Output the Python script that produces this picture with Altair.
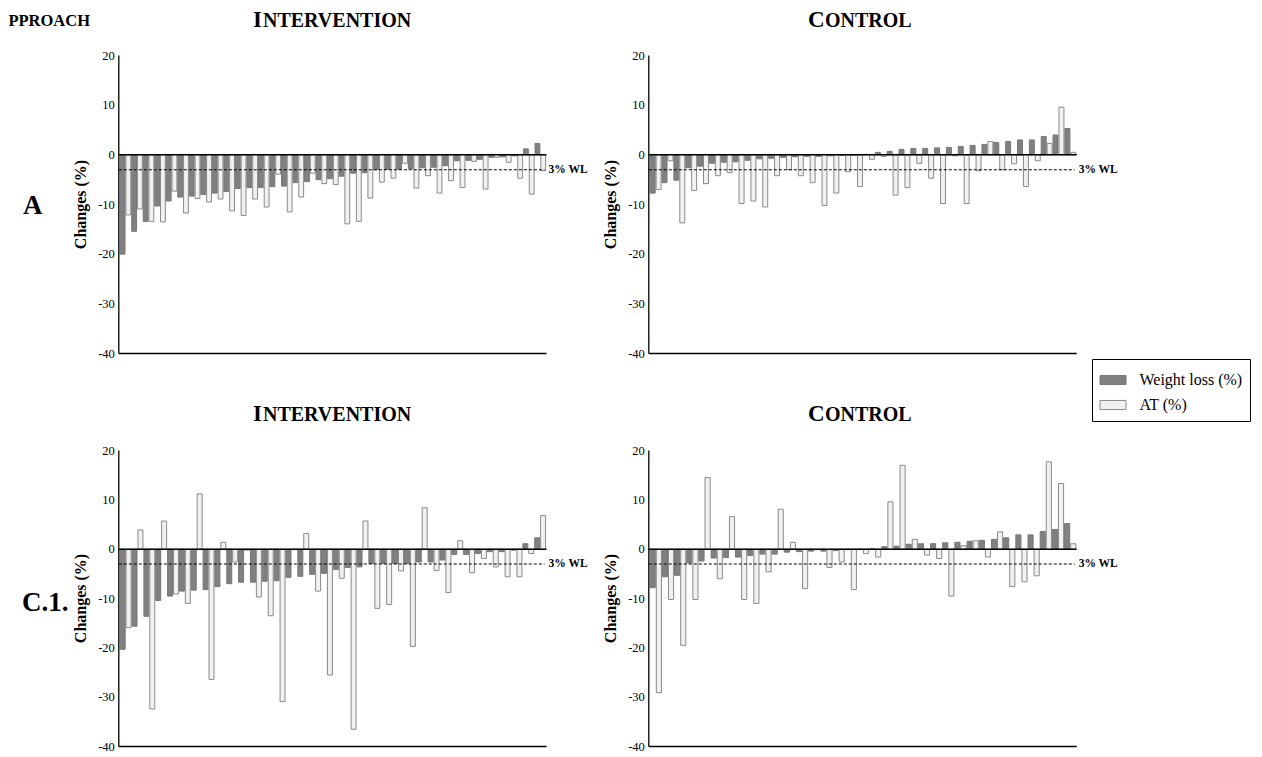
import altair as alt
import pandas as pd

# ---------------- data ----------------
series = ["Weight loss (%)", "AT (%)"]
ticks = [20, 10, 0, -10, -20, -30, -40]

# Approach A - intervention (37 participants)
a_int_wl = [-20.0, -15.4, -13.4, -10.3, -9.3, -8.5, -8.3, -8.0, -7.7, -7.4, -6.8, -6.6, -6.6,
            -6.4, -6.3, -5.6, -5.4, -5.0, -4.8, -4.3, -3.7, -3.6, -3.0, -2.9, -2.9, -2.8,
            -2.6, -2.5, -2.2, -1.2, -1.1, -0.9, -0.5, -0.4, -0.2, 1.2, 2.3]
a_int_at = [-12.1, -10.9, -13.4, -13.5, -7.3, -11.7, -8.8, -9.5, -8.9, -11.3, -12.2, -8.9, -10.5,
            -3.9, -11.5, -8.5, -3.7, -5.8, -6.0, -13.9, -13.4, -8.7, -5.5, -4.7, -1.7, -6.7,
            -4.2, -7.7, -5.2, -6.6, -1.3, -6.9, -0.5, -1.5, -4.7, -7.9, -3.2]

# Approach A - control (36 participants)
a_ctl_wl = [-7.7, -5.6, -5.1, -2.6, -2.3, -1.7, -1.5, -1.4, -1.1, -0.8, -0.7, -0.5, -0.4, -0.3,
            -0.3, -0.2, -0.1, -0.05, 0.1, 0.5, 0.7, 1.1, 1.3, 1.3, 1.4, 1.5, 1.7, 1.9, 2.1, 2.5,
            2.7, 3.0, 3.0, 3.7, 4.0, 5.3]
a_ctl_at = [-7.0, -1.2, -13.7, -7.2, -5.8, -4.2, -3.6, -9.8, -9.3, -10.5, -4.2, -3.0, -4.2, -5.6,
            -10.2, -7.7, -3.4, -6.4, -0.9, -0.3, -8.1, -6.6, -1.7, -4.7, -9.8, -0.2, -9.8, -3.2,
            2.7, -3.0, -1.8, -6.4, -1.2, 2.3, 9.6, 0.5]

# Approach C.1 - intervention (36 participants)
c_int_wl = [-20.3, -15.6, -13.6, -10.4, -9.5, -8.5, -8.3, -8.2, -7.6, -7.0, -6.7, -6.7, -6.5,
            -6.4, -5.7, -5.5, -5.1, -4.9, -4.1, -3.7, -3.6, -2.9, -2.9, -2.9, -2.9, -2.6, -2.6,
            -2.2, -1.1, -1.1, -0.9, -0.5, -0.5, -0.2, 1.1, 2.3]
c_int_at = [-15.9, 3.9, -32.4, 5.7, -9.1, -11.0, 11.2, -26.4, 1.4, -2.6, -0.2, -9.7, -13.5,
            -30.9, -0.1, 3.2, -8.5, -25.5, -5.9, -36.5, 5.7, -12.0, -11.2, -4.4, -19.7, 8.4,
            -4.3, -8.8, 1.7, -4.8, -1.9, -3.6, -5.6, -5.6, -0.9, 6.8]

# Approach C.1 - control (35 participants)
c_ctl_wl = [-7.8, -5.6, -5.3, -2.8, -2.4, -1.8, -1.7, -1.6, -1.3, -1.0, -1.0, -0.6, -0.5, -0.4,
            -0.4, -0.3, -0.1, 0.0, 0.05, 0.5, 0.6, 1.0, 1.1, 1.1, 1.3, 1.4, 1.6, 1.8, 2.0, 2.3,
            2.9, 2.9, 3.6, 4.0, 5.2]
c_ctl_at = [-29.1, -10.2, -19.5, -10.2, 14.5, -6.0, 6.6, -10.2, -11.0, -4.6, 8.1, 1.4, -8.0,
            -0.1, -3.7, -2.6, -8.2, -0.9, -1.6, 9.6, 17.0, 2.0, -1.2, -1.9, -9.5, 0.7, 1.7,
            -1.6, 3.5, -7.6, -6.6, -5.4, 17.7, 13.3, 1.1]

# ---------------- layout ----------------
OFF = 8.0          # page margin; chart coordinates = page coordinates - 8
FONT = "Liberation Serif"


def P(v):
    return v - OFF


panels = [
    dict(wl=a_int_wl, at=a_int_at, x0=118.8, x1=546.5, ytop=55.5, ybot=353.5),
    dict(wl=a_ctl_wl, at=a_ctl_at, x0=648.8, x1=1076.7, ytop=55.5, ybot=353.5),
    dict(wl=c_int_wl, at=c_int_at, x0=118.8, x1=546.5, ytop=450.5, ybot=746.5),
    dict(wl=c_ctl_wl, at=c_ctl_at, x0=648.8, x1=1076.7, ytop=450.5, ybot=746.5),
]

legend = alt.Legend(
    title=None, orient="none", legendX=P(1092), legendY=P(359), padding=7.5,
    strokeColor="black", fillColor="white",
    symbolType="M-1,-0.35H1V0.35H-1Z", symbolSize=676,
    symbolStrokeColor="#8a8a8a", symbolStrokeWidth=1,
    labelFont=FONT, labelFontSize=16, labelColor="black", labelOffset=13,
    rowPadding=3,
)


def yscale(p):
    return alt.Scale(domain=[-40, 20], range=[P(p["ybot"]), P(p["ytop"])], nice=False, zero=False)


layers = []
for p in panels:
    ys = yscale(p)
    rows, keys = [], []
    for i, (w, a) in enumerate(zip(p["wl"], p["at"])):
        for s, v in ((series[0], w), (series[1], a)):
            k = f"{i:02d}{'a' if s == series[0] else 'b'}"
            rows.append(dict(key=k, val=v, series=s))
            keys.append(k)
    df = pd.DataFrame(rows)
    bars = alt.Chart(df).mark_bar(strokeWidth=1).encode(
        x=alt.X("key:N", sort=keys, axis=None,
                scale=alt.Scale(range=[P(p["x0"]) + 0.5, P(p["x1"])], paddingInner=0.16, paddingOuter=0.15)),
        y=alt.Y("val:Q", axis=None, scale=ys),
        y2=alt.datum(0),
        fill=alt.Fill("series:N", scale=alt.Scale(domain=series, range=["#808080", "#f1f1f1"]), legend=legend),
        stroke=alt.Stroke("series:N", scale=alt.Scale(domain=series, range=["#777777", "#8a8a8a"]), legend=None),
    )
    layers.append(bars)

    # dashed 3 % weight-loss threshold
    dash = alt.Chart(pd.DataFrame({"v": [-3]})).mark_rule(color="black", strokeWidth=1.1, strokeDash=[3, 2]).encode(
        y=alt.Y("v:Q", scale=ys, axis=None), x=alt.value(P(p["x0"])), x2=alt.value(P(p["x1"]) - 2))
    dash_lab = alt.Chart(pd.DataFrame({"v": [-3], "t": ["3% WL"]})).mark_text(
        align="left", baseline="middle", font=FONT, fontWeight="bold", fontSize=11.5, color="black").encode(
        y=alt.Y("v:Q", scale=ys, axis=None), x=alt.value(P(p["x1"]) + 2), text="t:N")
    # zero line
    zero = alt.Chart(pd.DataFrame({"v": [0]})).mark_rule(color="black", strokeWidth=1.5).encode(
        y=alt.Y("v:Q", scale=ys, axis=None), x=alt.value(P(p["x0"])), x2=alt.value(P(p["x1"])))
    # x axis line (bottom)
    xaxis = alt.Chart(pd.DataFrame({"v": [-40]})).mark_rule(color="black", strokeWidth=1.3).encode(
        y=alt.Y("v:Q", scale=ys, axis=None), x=alt.value(P(p["x0"])), x2=alt.value(P(p["x1"])))
    # y axis line
    yaxis = alt.Chart(pd.DataFrame({"a": [20], "b": [-40]})).mark_rule(color="black", strokeWidth=1.3).encode(
        y=alt.Y("a:Q", scale=ys, axis=None), y2="b:Q", x=alt.value(P(p["x0"])))
    # tick labels
    tl = alt.Chart(pd.DataFrame({"v": ticks, "t": [str(t) for t in ticks]})).mark_text(
        align="right", baseline="middle", font=FONT, fontSize=12.5, color="black").encode(
        y=alt.Y("v:Q", scale=ys, axis=None), x=alt.value(P(p["x0"]) - 4), text="t:N")
    # y title
    ymid = (p["ytop"] + p["ybot"]) / 2
    ytitle = alt.Chart(pd.DataFrame({"t": ["Changes (%)"]})).mark_text(
        angle=270, align="center", baseline="middle", font=FONT, fontWeight="bold", fontSize=16,
        color="black").encode(text="t:N", x=alt.value(P(p["x0"]) - 37.5), y=alt.value(P(ymid)))
    layers += [dash, dash_lab, zero, xaxis, yaxis, tl, ytitle]


def txt(s, x, y, size, align="left"):
    return alt.Chart(pd.DataFrame({"t": [s]})).mark_text(
        align=align, baseline="alphabetic", font=FONT, fontWeight="bold", fontSize=size,
        color="black").encode(text="t:N", x=alt.value(P(x)), y=alt.value(P(y)))


# panel titles in small caps
for base in (26.5, 420.5):
    layers += [txt("I", 253, base, 23), txt("NTERVENTION", 263, base, 20),
               txt("C", 808, base, 23), txt("ONTROL", 825, base, 20)]
layers += [txt("PPROACH", 90, 25.5, 16.5, align="right"),
           txt("A", 23, 214, 27), txt("C.1.", 22, 611, 27)]

chart = alt.layer(*layers).resolve_scale(x="independent", y="independent").properties(
    width=1246, height=745, autosize=alt.AutoSizeParams(type="none"), padding=0,
    background="white",
).configure_view(stroke=None)

chart.save("out.html", embed_options={"renderer": "svg", "actions": False})
